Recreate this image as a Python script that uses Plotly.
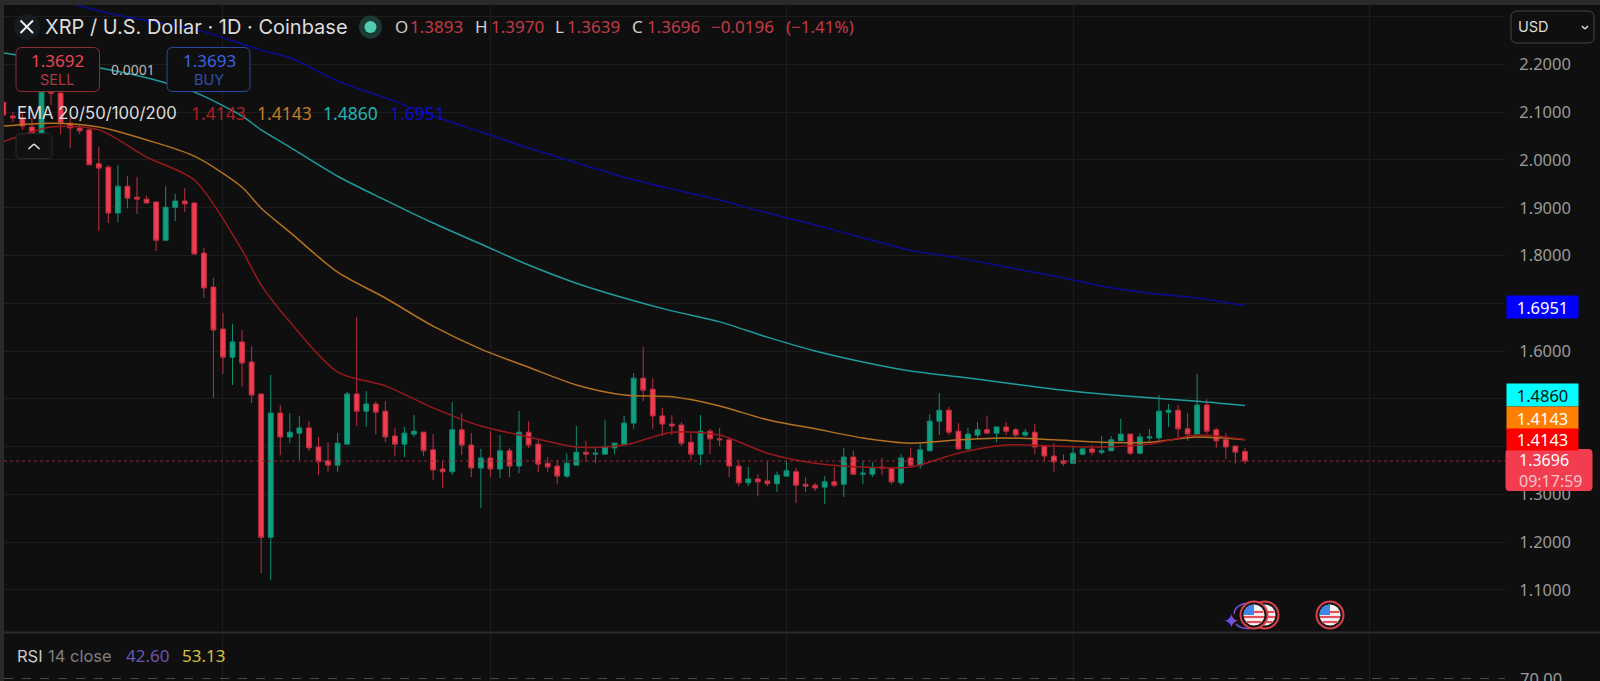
import plotly.graph_objects as go

# daily candles
opens = [2.121, 2.092, 2.088, 2.069, 2.056, 2.142, 2.140, 2.077, 2.067,
         2.063, 1.992, 1.985, 1.889, 1.945, 1.922, 1.918, 1.912, 1.832, 1.901,
         1.914, 1.910, 1.805, 1.734, 1.646, 1.587, 1.619, 1.577, 1.510, 1.210,
         1.470, 1.420, 1.428, 1.439, 1.399, 1.370, 1.361, 1.405, 1.510, 1.474,
         1.489, 1.474, 1.422, 1.405, 1.426, 1.430, 1.393, 1.353, 1.347, 1.435,
         1.403, 1.355, 1.376, 1.353, 1.391, 1.359, 1.430, 1.405, 1.365, 1.359,
         1.338, 1.361, 1.388, 1.384, 1.384, 1.397, 1.405, 1.449, 1.543, 1.520,
         1.464, 1.447, 1.445, 1.409, 1.384, 1.432, 1.416, 1.414, 1.359, 1.324,
         1.332, 1.328, 1.322, 1.338, 1.347, 1.321, 1.319, 1.315, 1.326, 1.321,
         1.378, 1.342, 1.342, 1.357, 1.355, 1.324, 1.376, 1.361, 1.391, 1.453,
         1.476, 1.432, 1.395, 1.424, 1.435, 1.428, 1.441, 1.435, 1.424, 1.430,
         1.401, 1.380, 1.370, 1.365, 1.384, 1.395, 1.388, 1.391, 1.412, 1.426,
         1.386, 1.418, 1.418, 1.472, 1.476, 1.437, 1.426, 1.487, 1.435, 1.414,
         1.401, 1.3893]
highs = [2.125, 2.100, 2.100, 2.088, 2.155, 2.150, 2.147, 2.088, 2.075,
         2.065, 2.027, 1.989, 1.989, 1.966, 1.964, 1.925, 1.912, 1.945, 1.929,
         1.941, 1.910, 1.816, 1.753, 1.680, 1.657, 1.644, 1.610, 1.510, 1.550,
         1.487, 1.470, 1.464, 1.453, 1.420, 1.409, 1.428, 1.514, 1.671, 1.516,
         1.495, 1.495, 1.439, 1.441, 1.466, 1.430, 1.426, 1.370, 1.493, 1.470,
         1.428, 1.395, 1.432, 1.424, 1.397, 1.474, 1.453, 1.416, 1.378, 1.372,
         1.386, 1.443, 1.412, 1.397, 1.455, 1.407, 1.464, 1.554, 1.608, 1.543,
         1.481, 1.466, 1.451, 1.428, 1.466, 1.437, 1.439, 1.414, 1.372, 1.357,
         1.342, 1.368, 1.347, 1.370, 1.355, 1.336, 1.324, 1.338, 1.357, 1.397,
         1.391, 1.370, 1.368, 1.376, 1.355, 1.384, 1.397, 1.407, 1.468, 1.512,
         1.483, 1.449, 1.439, 1.451, 1.464, 1.441, 1.451, 1.439, 1.437, 1.447,
         1.401, 1.407, 1.384, 1.399, 1.399, 1.403, 1.422, 1.422, 1.458, 1.426,
         1.428, 1.437, 1.508, 1.489, 1.487, 1.470, 1.552, 1.499, 1.439, 1.428,
         1.401, 1.3970]
lows = [2.092, 2.079, 2.063, 2.054, 2.052, 2.115, 2.054, 2.025, 2.054,
        1.989, 1.851, 1.868, 1.870, 1.899, 1.887, 1.908, 1.809, 1.832, 1.872,
        1.891, 1.803, 1.711, 1.502, 1.552, 1.529, 1.525, 1.491, 1.135, 1.120,
        1.382, 1.407, 1.372, 1.391, 1.340, 1.347, 1.347, 1.405, 1.443, 1.441,
        1.426, 1.409, 1.380, 1.378, 1.420, 1.380, 1.330, 1.313, 1.340, 1.382,
        1.336, 1.271, 1.336, 1.334, 1.336, 1.344, 1.397, 1.347, 1.347, 1.321,
        1.334, 1.361, 1.368, 1.365, 1.384, 1.384, 1.403, 1.437, 1.495, 1.437,
        1.422, 1.424, 1.401, 1.372, 1.361, 1.384, 1.401, 1.336, 1.317, 1.317,
        1.296, 1.317, 1.305, 1.338, 1.282, 1.305, 1.307, 1.280, 1.315, 1.294,
        1.340, 1.321, 1.336, 1.340, 1.321, 1.319, 1.355, 1.353, 1.391, 1.424,
        1.424, 1.393, 1.393, 1.416, 1.428, 1.409, 1.424, 1.420, 1.420, 1.384,
        1.370, 1.347, 1.359, 1.365, 1.382, 1.382, 1.384, 1.391, 1.412, 1.382,
        1.384, 1.412, 1.412, 1.441, 1.420, 1.412, 1.424, 1.426, 1.397, 1.374,
        1.365, 1.3639]
closes = [2.094, 2.088, 2.071, 2.056, 2.142, 2.140, 2.077, 2.067, 2.061,
          1.990, 1.983, 1.889, 1.945, 1.920, 1.918, 1.910, 1.832, 1.901, 1.914,
          1.908, 1.803, 1.732, 1.644, 1.587, 1.619, 1.575, 1.508, 1.210, 1.470,
          1.420, 1.430, 1.439, 1.397, 1.368, 1.361, 1.407, 1.510, 1.474, 1.489,
          1.472, 1.420, 1.405, 1.428, 1.432, 1.391, 1.351, 1.347, 1.435, 1.403,
          1.355, 1.376, 1.353, 1.391, 1.359, 1.430, 1.403, 1.363, 1.357, 1.338,
          1.365, 1.388, 1.384, 1.386, 1.399, 1.407, 1.449, 1.543, 1.518, 1.464,
          1.447, 1.443, 1.407, 1.384, 1.432, 1.416, 1.414, 1.359, 1.324, 1.332,
          1.326, 1.322, 1.340, 1.349, 1.319, 1.317, 1.313, 1.326, 1.319, 1.378,
          1.342, 1.344, 1.355, 1.355, 1.326, 1.376, 1.361, 1.393, 1.453, 1.476,
          1.430, 1.395, 1.426, 1.435, 1.428, 1.441, 1.432, 1.424, 1.430, 1.399,
          1.380, 1.368, 1.365, 1.386, 1.395, 1.388, 1.391, 1.414, 1.426, 1.386,
          1.420, 1.420, 1.474, 1.476, 1.437, 1.426, 1.487, 1.432, 1.412, 1.399,
          1.388, 1.3696]
assert len(opens) == len(highs) == len(lows) == len(closes) == 131
days = list(range(len(closes)))

# EMAs, read every few days
ema_days = [0, 5, 10, 15, 20, 25, 27, 30, 35, 40, 45, 50, 55, 60, 65, 70, 75, 80, 85, 90,
            95, 100, 105, 110, 115, 120, 125, 130]
ema20 = [2.038, 2.069, 2.063, 2.006, 1.958, 1.811, 1.738, 1.661, 1.556, 1.527, 1.481, 1.443, 1.420, 1.399,
         1.403, 1.430, 1.424, 1.386, 1.365, 1.357, 1.357, 1.386, 1.403, 1.401, 1.399, 1.405, 1.424, 1.4143]
ema50 = [2.071, 2.077, 2.069, 2.042, 2.008, 1.943, 1.899, 1.849, 1.765, 1.711, 1.652, 1.604, 1.566, 1.529,
         1.508, 1.504, 1.485, 1.456, 1.437, 1.418, 1.407, 1.414, 1.418, 1.414, 1.409, 1.409, 1.420, 1.4143]
ema100 = [2.224, 2.209, 2.193, 2.172, 2.142, 2.092, 2.063, 2.027, 1.966, 1.916, 1.868, 1.824, 1.780, 1.742,
          1.711, 1.684, 1.661, 1.629, 1.600, 1.577, 1.558, 1.546, 1.533, 1.520, 1.510, 1.502, 1.495, 1.4860]
ema200 = [2.360, 2.340, 2.312, 2.292, 2.274, 2.243, 2.230, 2.214, 2.165, 2.130, 2.092, 2.059, 2.025, 1.994,
          1.964, 1.939, 1.916, 1.889, 1.864, 1.837, 1.811, 1.795, 1.776, 1.757, 1.736, 1.721, 1.711, 1.6951]

rsi_last = [42.60]
rsi_ma_last = [53.13]

# 1.4, 1.5 and 1.7 sit behind the value tags on the axis
price_ticks = [1.1, 1.2, 1.3, 1.4, 1.5, 1.6, 1.7, 1.8, 1.9, 2.0, 2.1, 2.2, 2.3]
price_labels = ["1.1000", "1.2000", "1.3000", "", "", "1.6000", "", "1.8000",
                "1.9000", "2.0000", "2.1000", "2.2000", ""]
month_starts = [23, 51, 82, 112, 143]

BG = "#0f0f0f"
GRID = "#1d1d1d"
FONT = "Inter"
NUM_FONT = "Noto Sans"
W, H = 1600, 681
UP, DOWN = "#10a081", "#f23c50"


def px(x):
    return x / W


def py(y):
    return 1 - y / H


def label(x, y, text, color, size=15, anchor="left", family=FONT):
    return dict(xref="paper", yref="paper", x=px(x), y=py(y), text=text, showarrow=False, xanchor=anchor,
                yanchor="middle", font=dict(family=family, size=size, color=color))


def num(x, y, text, color, size=17, anchor="left"):
    return label(x, y, text, color, size, anchor, NUM_FONT)


def tag(x0, x1, y0, y1, text, fill, color="#ffffff"):
    return dict(xref="paper", yref="paper", x=px(x0), y=py(y0), xanchor="left", yanchor="top", text=text,
                showarrow=False, width=x1 - x0, height=y1 - y0, bgcolor=fill, align="center", borderpad=0,
                valign="middle", font=dict(family=NUM_FONT, size=16.5, color=color))


def rounded(x0, y0, x1, y1, r, line, fill=BG, width=1):
    x = [px(v) for v in (x0, x0 + r, x1 - r, x1)]
    y = [py(v) for v in (y0, y0 + r, y1 - r, y1)]
    path = (f"M {x[1]} {y[0]} L {x[2]} {y[0]} Q {x[3]} {y[0]} {x[3]} {y[1]} L {x[3]} {y[2]} "
            f"Q {x[3]} {y[3]} {x[2]} {y[3]} L {x[1]} {y[3]} Q {x[0]} {y[3]} {x[0]} {y[2]} "
            f"L {x[0]} {y[1]} Q {x[0]} {y[0]} {x[1]} {y[0]} Z")
    return dict(type="path", xref="paper", yref="paper", path=path, fillcolor=fill, line=dict(color=line, width=width),
                layer="above")


def seg(x0, y0, x1, y1, color, width=1.5, dash="solid"):
    return dict(type="line", xref="paper", yref="paper", x0=px(x0), y0=py(y0), x1=px(x1), y1=py(y1),
                line=dict(color=color, width=width, dash=dash), layer="above")


def circle(cx, cy, r, fill, line="rgba(0,0,0,0)", width=0):
    return dict(type="circle", xref="paper", yref="paper", x0=px(cx - r), x1=px(cx + r), y0=py(cy + r), y1=py(cy - r),
                fillcolor=fill, line=dict(color=line, width=width), layer="above")


def flag(cx, cy):
    # little US flag event marker
    out = [circle(cx, cy, 13.5, "#141414", "#d9404c", 2), circle(cx, cy, 10.5, "#f4f4f4")]
    for dy, half in [(-3, 9.5), (2, 10), (7, 7.5)]:
        left = cx if dy < 0 else cx - half
        out.append(seg(left, cy + dy, cx + half, cy + dy, "#e5505c", 2.2))
    canton = (f"M {px(cx)} {py(cy)} L {px(cx - 10.5)} {py(cy)} Q {px(cx - 10)} {py(cy - 10)} "
              f"{px(cx)} {py(cy - 10.5)} Z")
    out.append(dict(type="path", xref="paper", yref="paper", path=canton, fillcolor="#3f86e6",
                    line=dict(width=0), layer="above"))
    return out


fig = go.Figure()
fig.add_trace(go.Candlestick(x=days, open=opens, high=highs, low=lows, close=closes, whiskerwidth=0,
                             increasing=dict(line=dict(color="#0e8f74", width=1), fillcolor=UP),
                             decreasing=dict(line=dict(color="#c03040", width=1), fillcolor=DOWN)))
for values, color in [(ema200, "#0b0b96"), (ema100, "#1f9c9c"), (ema50, "#b5711f"), (ema20, "#99181c")]:
    fig.add_trace(go.Scatter(x=ema_days, y=values, mode="lines",
                             line=dict(color=color, width=1.5, shape="spline", smoothing=0.8)))
fig.add_trace(go.Scatter(x=days[-1:], y=rsi_last, yaxis="y2", mode="lines", line=dict(color="#7e57c2", width=1)))
fig.add_trace(go.Scatter(x=days[-1:], y=rsi_ma_last, yaxis="y2", mode="lines", line=dict(color="#e0c040", width=1)))

shapes = [
    dict(type="rect", xref="paper", yref="paper", x0=px(4), x1=1, y0=0, y1=py(5), fillcolor=BG, line=dict(width=0),
         layer="below"),
    dict(type="line", xref="paper", yref="y", x0=px(4), x1=px(1505), y0=closes[-1], y1=closes[-1],
         line=dict(color="#8a2c36", width=1, dash="dot"), layer="above"),
    seg(4, 632.5, 1600, 632.5, "#2b2b2b", 2),
    # buttons
    rounded(16, 47.5, 99.5, 91.5, 6, "#8a2f3a"),
    rounded(167, 47.5, 250, 91.5, 6, "#2a4aa0"),
    rounded(16, 133.5, 52, 158.5, 4, "#2a2a2a", "rgba(18,18,18,0.85)"),
    seg(28.5, 149, 34, 144, "#e8e8e8"),
    seg(34, 144, 39.5, 149, "#e8e8e8"),
    rounded(1511, 11, 1594, 43, 6, "#444444"),
    seg(1582, 26, 1585, 29, "#dddddd"),
    seg(1585, 29, 1588, 26, "#dddddd"),
    # logo and market status dot
    circle(27, 27, 13, "#171a1e"),
    seg(20.5, 20.5, 33, 33, "#f0f0f0", 2),
    seg(33, 20.5, 20.5, 33, "#f0f0f0", 2),
    circle(370.5, 27, 11.5, "#1c3a34"),
    circle(370.5, 27, 6, "#4fcdb0"),
    # price tag of the last candle
    rounded(1506, 449.5, 1592, 490.5, 3, "#f23c50", "#f23c50"),
    # events
    dict(type="path", xref="paper", yref="paper", layer="above", line=dict(color="#7a4fe0", width=1.5),
         path=f"M {px(1249)} {py(603)} Q {px(1235)} {py(604)} {px(1234)} {py(614)}"),
    dict(type="path", xref="paper", yref="paper", layer="above", line=dict(color="#7a4fe0", width=1.5),
         path=f"M {px(1236)} {py(624)} Q {px(1240)} {py(629)} {px(1250)} {py(628.5)}"),
]
shapes += flag(1265, 615) + flag(1254, 615) + flag(1330, 615)

annotations = [
    tag(1506, 1577, 295, 317, "1.6951", "#0000ff"),
    tag(1506, 1577, 383, 405, "1.4860", "#00ffff", "#0f0f0f"),
    tag(1506, 1577, 406, 428, "1.4143", "#ff7f00"),
    tag(1506, 1577, 428, 449, "1.4143", "#ff0000"),
    dict(num(1517, 470, '1.3696<br><span style="color:#f7c4c9">09:17:59</span>', "#ffffff", 16), align="left"),
    label(43, 27, "XRP / U.S. Dollar · 1D · Coinbase", "#dddddd", 20),
    num(57.5, 60.5, "1.3692", "#ea4354", 17, "center"),
    label(57.5, 79.5, "SELL", "#b23744", 14.5, "center"),
    num(133, 69.5, "0.0001", "#b8b8b8", 14, "center"),
    num(209, 60.5, "1.3693", "#3c63e0", 17, "center"),
    label(209, 79.5, "BUY", "#2f50b0", 14.5, "center"),
    label(15, 113, "EMA 20/50/100/200", "#dddddd", 16.7),
    num(189, 113, "1.4143", "#b01d22", 17.5),
    num(255, 113, "1.4143", "#c47a24", 17.5),
    num(321, 113, "1.4860", "#22b4b4", 17.5),
    num(388, 113, "1.6951", "#0c0cc8", 17.5),
    label(1516, 27, "USD", "#dddddd", 14.5),
    label(15, 655.5, "RSI", "#c8c8c8", 16.5),
    label(46, 655.5, "14 close", "#7f7f7f", 16.5),
    num(124, 655.5, "42.60", "#6a55b0", 17),
    num(180, 655.5, "53.13", "#d8c040", 17),
    label(1231, 621, "✦", "#7a4fe0", 20, "center"),
    # runs off the bottom edge in the source too
    num(1518, 678, "70.00", "#9b9b9b", 16.5),
]
for x, text, color in [(393, "O", "#d0d0d0"), (408, "1.3893", "#c43a47"), (473, "H", "#d0d0d0"),
                       (489, "1.3970", "#c43a47"), (553, "L", "#d0d0d0"), (565, "1.3639", "#c43a47"),
                       (630, "C", "#d0d0d0"), (645, "1.3696", "#c43a47"), (709, "−0.0196", "#c43a47"),
                       (784, "(−1.41%)", "#c43a47")]:
    annotations.append(num(x, 27, text, color, 17))

fig.update_layout(
    width=W, height=H, autosize=False, margin=dict(l=0, r=0, t=0, b=0),
    paper_bgcolor="#2a2a2a", plot_bgcolor=BG, showlegend=False, boxgap=0.28,
    xaxis=dict(domain=[px(4), px(1505)], range=[0.073, 157.23], rangeslider=dict(visible=False), showticklabels=False,
               tickvals=month_starts, showgrid=True, gridcolor=GRID, gridwidth=1, zeroline=False, showline=False,
               ticks="", anchor="y2"),
    yaxis=dict(domain=[py(632), py(5)], range=[2.335 - 632 * 0.002094, 2.335 - 5 * 0.002094], side="right",
               tickvals=price_ticks, ticktext=price_labels, gridcolor=GRID, gridwidth=1, zeroline=False,
               showline=False, ticks="outside", ticklen=10, tickcolor="rgba(0,0,0,0)",
               tickfont=dict(family=NUM_FONT, size=16.5, color="#9b9b9b"), anchor="x"),
    yaxis2=dict(domain=[0, py(633)], range=[68, 100], side="right", tickvals=[70], showticklabels=False,
                gridcolor="#4a4a4a", griddash="dash", gridwidth=1, zeroline=False, showline=False, ticks="",
                anchor="x"),
    shapes=shapes, annotations=annotations,
)

fig.write_html("out.html", config=dict(displayModeBar=False),
               post_script="document.body.style.margin='0';document.body.style.overflow='hidden';")
